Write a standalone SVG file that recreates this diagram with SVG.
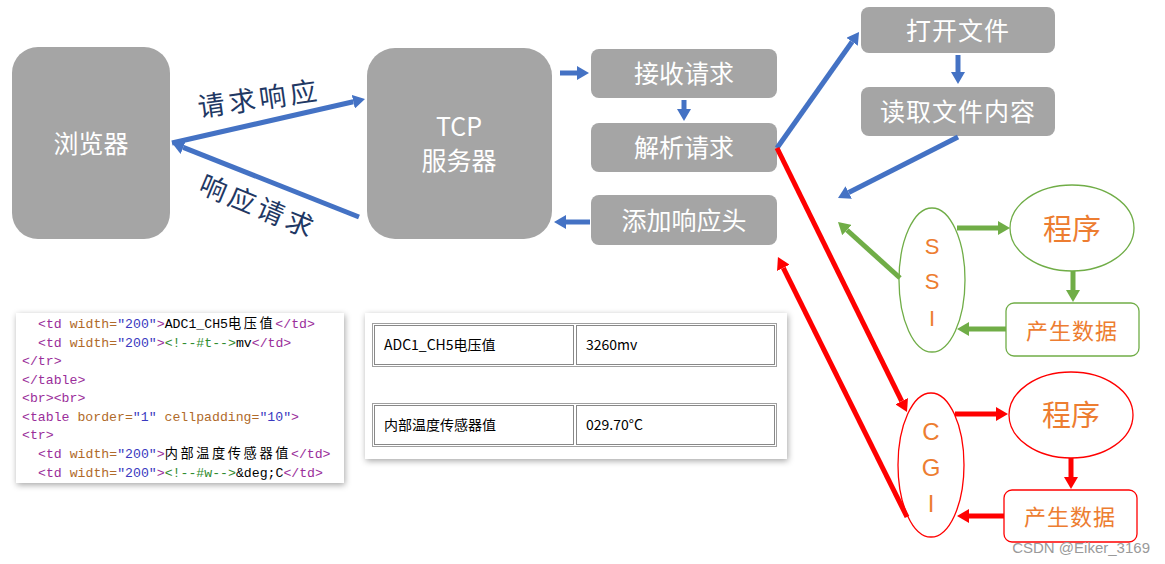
<svg xmlns="http://www.w3.org/2000/svg" width="1165" height="564" viewBox="0 0 1165 564">
<style>
.box{fill:#A5A5A5}
.bt{fill:#FFFFFF;font-family:"Noto Sans CJK SC","Noto Sans",sans-serif;font-size:25px;text-anchor:middle;dominant-baseline:central}
.lbl{fill:#1F3864;font-family:"Noto Sans CJK SC",sans-serif;font-size:27px;letter-spacing:4px;text-anchor:middle;dominant-baseline:central}
.ot{fill:#ED7D31;font-family:"Noto Sans CJK SC",sans-serif;text-anchor:middle;dominant-baseline:central}
.lt{fill:#ED7D31;font-family:"Liberation Sans",Arial,sans-serif;text-anchor:middle}
.blue{stroke:#4472C4;stroke-width:5;fill:none;marker-end:url(#hb)}
.green{stroke:#70AD47;stroke-width:5;fill:none;marker-end:url(#hg)}
.red{stroke:#FF0000;stroke-width:5;fill:none;marker-end:url(#hr)}
.code{font-family:"Liberation Mono","Noto Sans CJK SC",monospace;font-size:13.2px;fill:#000}
.cj{letter-spacing:2.6px}
.tg{fill:#9A2E9A}.at{fill:#B06A2A}.va{fill:#3A3AC0}.cm{fill:#2E8B2E}
.tt{font-family:"Noto Sans CJK SC","Noto Sans",sans-serif;font-size:14px;fill:#000}
</style>
<defs>
<marker id="hb" markerUnits="userSpaceOnUse" markerWidth="14" markerHeight="14" viewBox="0 0 14 14" refX="0" refY="7" orient="auto"><path d="M0,0 L12,7 L0,14 z" fill="#4472C4"/></marker>
<marker id="hg" markerUnits="userSpaceOnUse" markerWidth="14" markerHeight="14" viewBox="0 0 14 14" refX="0" refY="7" orient="auto"><path d="M0,0 L12,7 L0,14 z" fill="#70AD47"/></marker>
<marker id="hr" markerUnits="userSpaceOnUse" markerWidth="14" markerHeight="14" viewBox="0 0 14 14" refX="0" refY="7" orient="auto"><path d="M0,0 L12,7 L0,14 z" fill="#FF0000"/></marker>
<filter id="sh" x="-10%" y="-10%" width="120%" height="130%"><feDropShadow dx="1" dy="2" stdDeviation="3" flood-color="#000" flood-opacity="0.35"/></filter>
</defs>
<rect width="1165" height="564" fill="#FFFFFF"/>

<g id="browser"><rect class="box" x="12" y="47" width="158" height="192" rx="26"/><text class="bt" x="91" y="142">浏览器</text></g>
<g id="tcp"><rect class="box" x="367" y="48" width="185" height="191" rx="28"/><text class="bt" x="459" y="125" font-size="23">TCP</text><text class="bt" x="459" y="159" font-size="24">服务器</text></g>
<g id="recv"><rect class="box" x="591" y="49" width="186" height="49" rx="8"/><text class="bt" x="684" y="72">接收请求</text></g>
<g id="parse"><rect class="box" x="591" y="123" width="186" height="49" rx="8"/><text class="bt" x="684" y="146">解析请求</text></g>
<g id="addhdr"><rect class="box" x="591" y="195" width="186" height="50" rx="8"/><text class="bt" x="684" y="219">添加响应头</text></g>
<g id="open"><rect class="box" x="861" y="7" width="194" height="46" rx="8"/><text class="bt" x="958" y="29" style="letter-spacing:1px">打开文件</text></g>
<g id="read"><rect class="box" x="861" y="87" width="194" height="49" rx="8"/><text class="bt" x="958" y="110" style="letter-spacing:1px">读取文件内容</text></g>

<g id="ssi"><ellipse cx="932" cy="280" rx="33" ry="72" fill="#FFFFFF" stroke="#70AD47" stroke-width="1.3"/><text class="lt" x="932" y="254" font-size="22">S</text><text class="lt" x="932" y="289" font-size="22">S</text><text class="lt" x="932" y="326" font-size="22">I</text></g>
<g id="ssi-prog"><ellipse cx="1072" cy="228" rx="62" ry="43" fill="#FFFFFF" stroke="#70AD47" stroke-width="1.3"/><text class="ot" x="1072" y="227" font-size="29">程序</text></g>
<g id="ssi-data"><rect x="1006" y="303" width="133" height="53" rx="8" fill="#FFFFFF" stroke="#70AD47" stroke-width="1.3"/><text class="ot" x="1072" y="329" font-size="22" style="letter-spacing:1px">产生数据</text></g>

<g id="cgi"><ellipse cx="931" cy="465" rx="33" ry="72" fill="#FFFFFF" stroke="#FF0000" stroke-width="1.3"/><text class="lt" x="931" y="440" font-size="24">C</text><text class="lt" x="931" y="476" font-size="24">G</text><text class="lt" x="931" y="512" font-size="24">I</text></g>
<g id="cgi-prog"><ellipse cx="1071" cy="415" rx="62" ry="43" fill="#FFFFFF" stroke="#FF0000" stroke-width="1.3"/><text class="ot" x="1071" y="413" font-size="29">程序</text></g>
<g id="cgi-data"><rect x="1004" y="490" width="133" height="52" rx="8" fill="#FFFFFF" stroke="#FF0000" stroke-width="1.3"/><text class="ot" x="1070" y="515" font-size="22" style="letter-spacing:1px">产生数据</text></g>

<g id="code-shot">
<rect x="16" y="313" width="328" height="170" fill="#FFFFFF" filter="url(#sh)"/>
<text class="code" x="38" y="328"><tspan class="tg">&lt;td</tspan> <tspan class="at">width=</tspan><tspan class="va">"200"</tspan><tspan class="tg">&gt;</tspan>ADC1_CH5<tspan class="cj">电压值</tspan><tspan class="tg">&lt;/td&gt;</tspan></text>
<text class="code" x="38" y="347"><tspan class="tg">&lt;td</tspan> <tspan class="at">width=</tspan><tspan class="va">"200"</tspan><tspan class="tg">&gt;</tspan><tspan class="cm">&lt;!--#t--&gt;</tspan>mv<tspan class="tg">&lt;/td&gt;</tspan></text>
<text class="code tg" x="22" y="365">&lt;/tr&gt;</text>
<text class="code tg" x="22" y="384">&lt;/table&gt;</text>
<text class="code tg" x="22" y="402">&lt;br&gt;&lt;br&gt;</text>
<text class="code" x="22" y="421"><tspan class="tg">&lt;table</tspan> <tspan class="at">border=</tspan><tspan class="va">"1"</tspan> <tspan class="at">cellpadding=</tspan><tspan class="va">"10"</tspan><tspan class="tg">&gt;</tspan></text>
<text class="code tg" x="22" y="439">&lt;tr&gt;</text>
<text class="code" x="38" y="458"><tspan class="tg">&lt;td</tspan> <tspan class="at">width=</tspan><tspan class="va">"200"</tspan><tspan class="tg">&gt;</tspan><tspan class="cj">内部温度传感器值</tspan><tspan class="tg">&lt;/td&gt;</tspan></text>
<text class="code" x="38" y="477"><tspan class="tg">&lt;td</tspan> <tspan class="at">width=</tspan><tspan class="va">"200"</tspan><tspan class="tg">&gt;</tspan><tspan class="cm">&lt;!--#w--&gt;</tspan>&amp;deg;C<tspan class="tg">&lt;/td&gt;</tspan></text>
</g>

<g id="table-shot">
<rect x="365" y="313" width="422" height="146" fill="#FFFFFF" filter="url(#sh)"/>
<g fill="none" stroke="#A0A0A0" stroke-width="1">
<rect x="372.5" y="323.5" width="404" height="43"/>
<rect x="374.5" y="325.5" width="199" height="39" stroke="#888"/>
<rect x="576.5" y="325.5" width="198" height="39" stroke="#888"/>
<rect x="372.5" y="403.5" width="404" height="43"/>
<rect x="374.5" y="405.5" width="199" height="39" stroke="#888"/>
<rect x="576.5" y="405.5" width="198" height="39" stroke="#888"/>
</g>
<text class="tt" x="384" y="350">ADC1_CH5电压值</text>
<text class="tt" x="586" y="350">3260mv</text>
<text class="tt" x="384" y="430">内部温度传感器值</text>
<text class="tt" x="586" y="430">029.70°C</text>
</g>

<g id="connectors">
<line class="blue" x1="172" y1="143" x2="353.3" y2="101.7"/>
<line class="blue" x1="359" y1="217" x2="183.2" y2="147.4"/>
<line class="blue" x1="560" y1="73" x2="577" y2="73"/>
<line class="blue" x1="684" y1="100" x2="684" y2="109"/>
<line class="blue" x1="590" y1="222" x2="566" y2="222"/>
<line class="blue" x1="777" y1="148" x2="852.1" y2="41.8"/>
<line class="blue" x1="958" y1="55" x2="958" y2="72"/>
<line class="blue" x1="958" y1="137" x2="848.7" y2="192.6"/>
<line class="green" x1="900" y1="278" x2="846.9" y2="230"/>
<line class="green" x1="957" y1="228" x2="998" y2="228"/>
<line class="green" x1="1073" y1="271" x2="1073" y2="290"/>
<line class="green" x1="1006" y1="329" x2="969" y2="329"/>
<line class="red" x1="777" y1="148" x2="901.7" y2="401.2"/>
<line class="red" x1="907" y1="517" x2="783.3" y2="267.8"/>
<line class="red" x1="955" y1="414" x2="996" y2="414"/>
<line class="red" x1="1071" y1="458" x2="1071" y2="477"/>
<line class="red" x1="1004" y1="516" x2="969" y2="516"/>
</g>

<g id="labels">
<text class="lbl" transform="translate(259,97) rotate(-8)">请求响应</text>
<text class="lbl" transform="translate(259,205) rotate(22.7)">响应请求</text>
<text x="1150" y="553" font-family="Liberation Sans,Arial,sans-serif" font-size="15" fill="#9A9A9A" text-anchor="end">CSDN @Eiker_3169</text>
</g>
</svg>
